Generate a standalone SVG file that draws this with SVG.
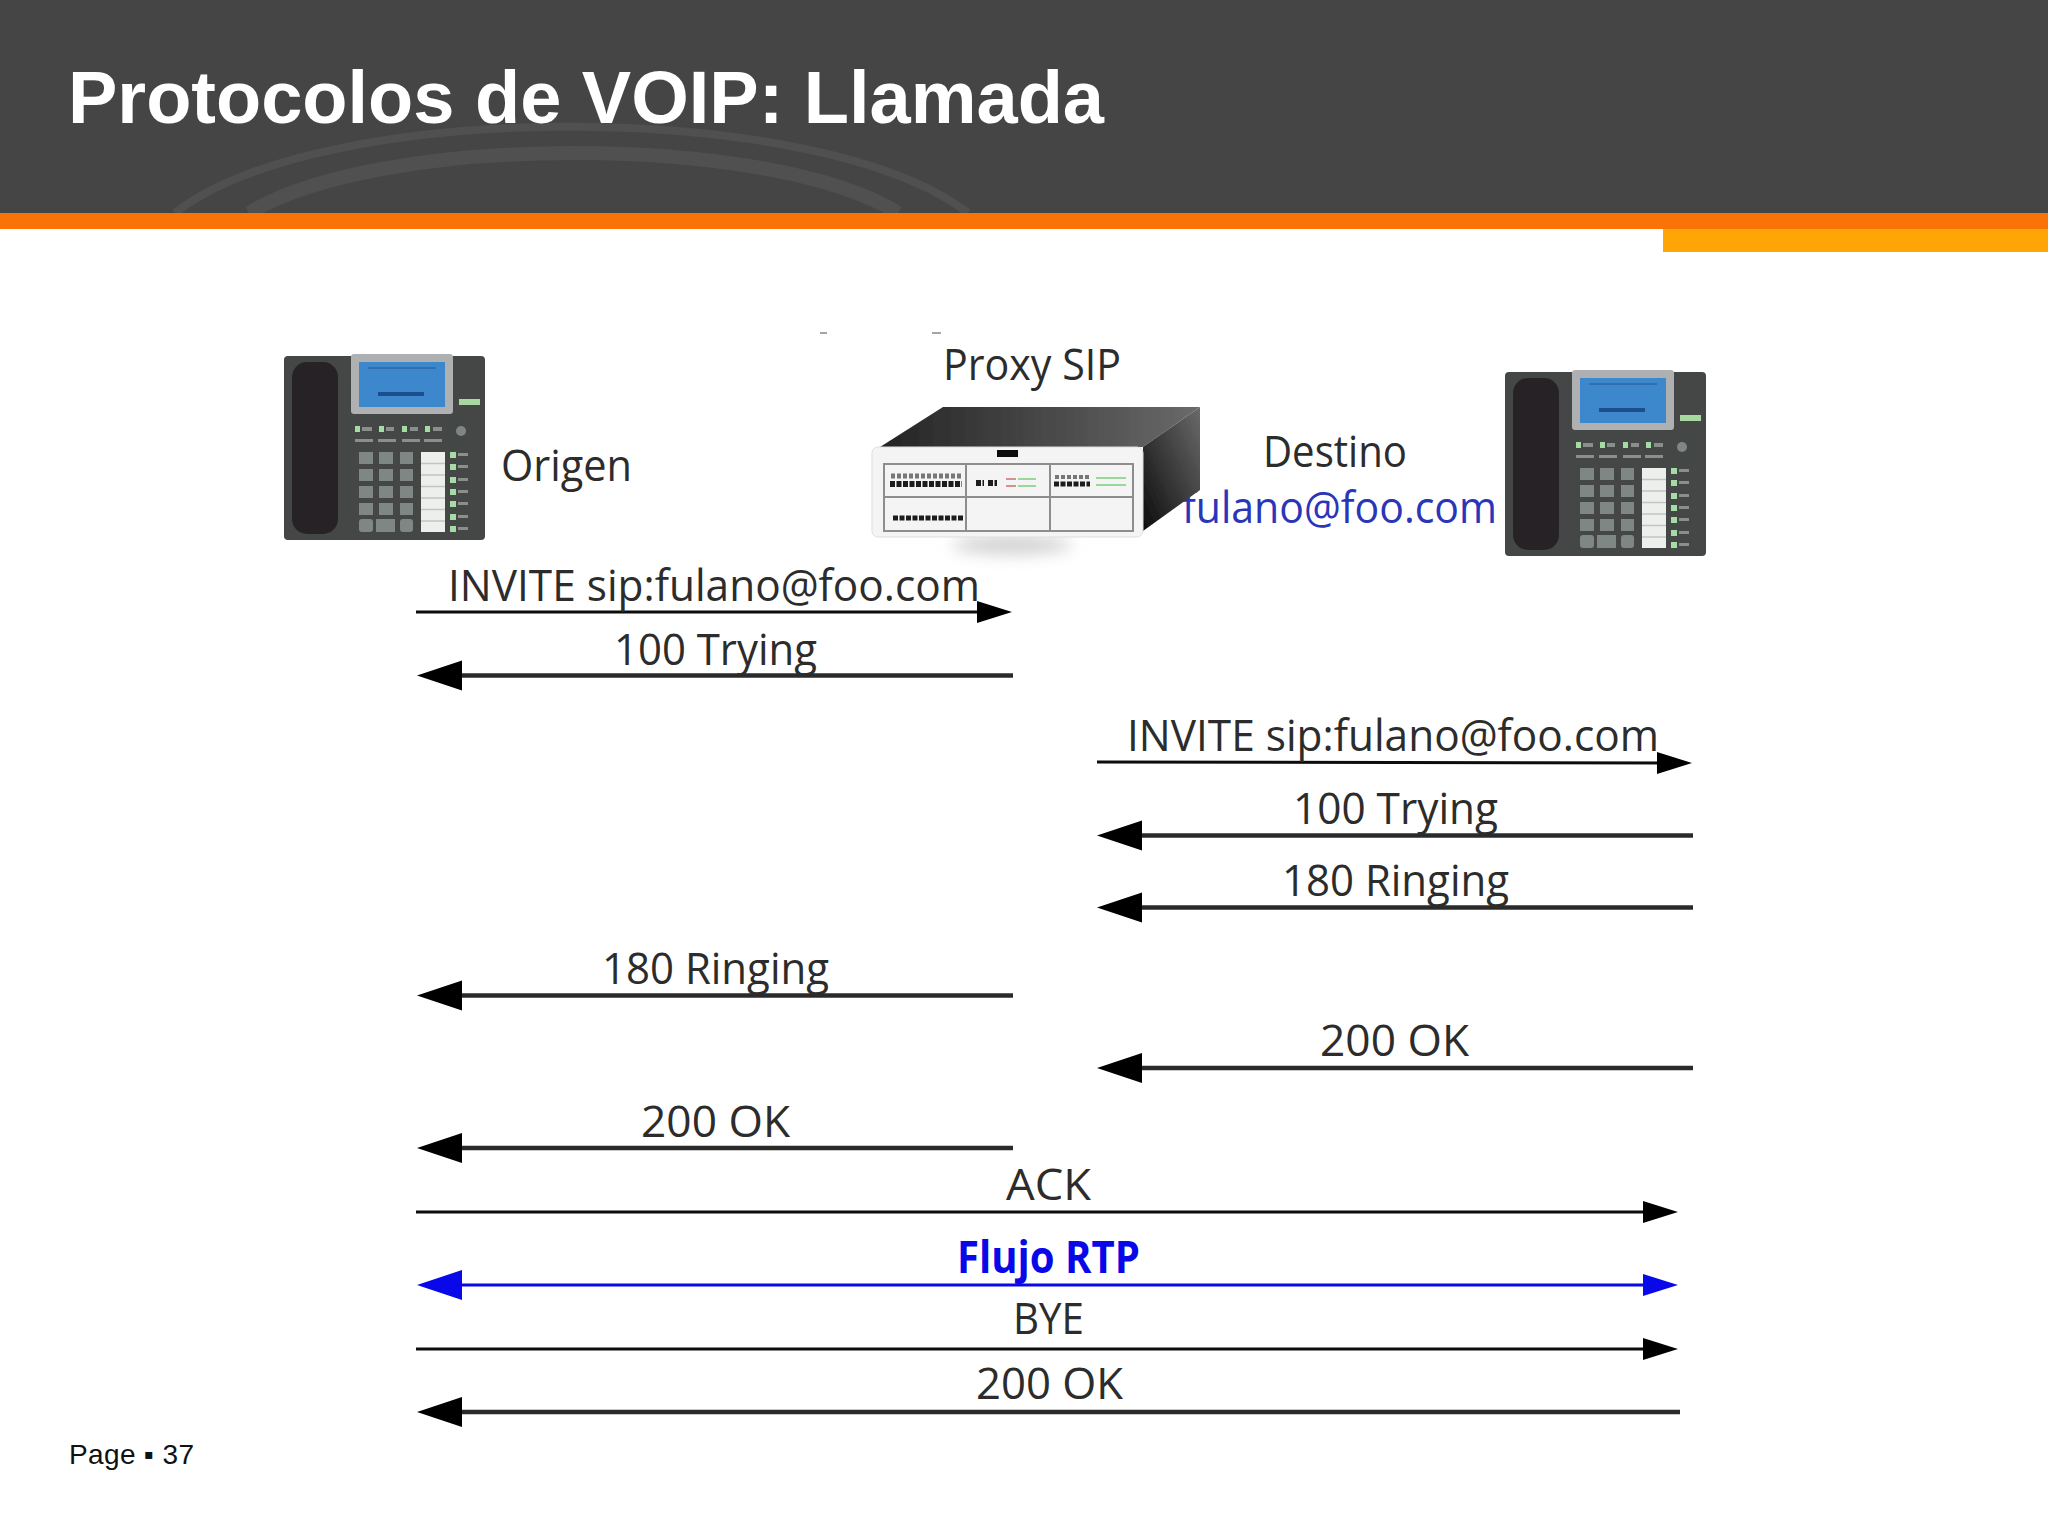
<svg xmlns="http://www.w3.org/2000/svg" width="2048" height="1536" viewBox="0 0 2048 1536">
<style>
.lb{font-family:"Open Sans","Noto Sans","Liberation Sans",sans-serif;font-size:44px;fill:#2c2c2c}
.thin{stroke:#0c0c0c;stroke-width:3;fill:none}
.thick{stroke:#2a2a2a;stroke-width:4.5;fill:none}
.blue{stroke:#0808e8;stroke-width:3;fill:none}
.key{fill:#7f8784}
.led{fill:#a5dca5}
.tag{fill:#8a8f8c}
.sep{stroke:#c4c4c4;stroke-width:1.5}
.pl{stroke:#8d8d8d;stroke-width:2}
.port{stroke:#1a1a1a;fill:none;stroke-dasharray:5 1.500}
.port2{stroke:#777;fill:none;stroke-dasharray:4 2}
</style>
<defs>
<filter id="soft" x="-5%" y="-5%" width="110%" height="110%"><feGaussianBlur stdDeviation="0.7"/></filter>
<filter id="shad" x="-30%" y="-100%" width="160%" height="300%"><feGaussianBlur stdDeviation="8"/></filter>
<linearGradient id="top" x1="0" y1="0" x2="1" y2="0"><stop offset="0" stop-color="#242424"/><stop offset="1" stop-color="#6a6a6a"/></linearGradient>
<linearGradient id="side" x1="0" y1="1" x2="1" y2="0"><stop offset="0" stop-color="#0c0c0c"/><stop offset="1" stop-color="#6a6a6a"/></linearGradient>
<marker id="lk" markerUnits="userSpaceOnUse" markerWidth="46" markerHeight="32" refX="24" refY="16" orient="0"><path d="M1 16 46 1V31Z" fill="#000"/></marker>
<marker id="rk" markerUnits="userSpaceOnUse" markerWidth="37" markerHeight="24" refX="16" refY="12" orient="0"><path d="M36 12 1 1V23Z" fill="#000"/></marker>
<marker id="lb" markerUnits="userSpaceOnUse" markerWidth="46" markerHeight="32" refX="24" refY="16" orient="0"><path d="M1 16 46 1V31Z" fill="#0808e8"/></marker>
<marker id="rb" markerUnits="userSpaceOnUse" markerWidth="37" markerHeight="24" refX="16" refY="12" orient="0"><path d="M36 12 1 1V23Z" fill="#0808e8"/></marker>
<g id="phone" filter="url(#soft)">
<rect x="284" y="356" width="201" height="184" rx="4" fill="#454647"/>
<rect x="292" y="362" width="46" height="172" rx="15" fill="#252426"/>
<rect x="351" y="354" width="102" height="60" rx="3" fill="#aeb0b2"/>
<rect x="359" y="362" width="86" height="45" fill="#3d88cc"/>
<rect x="368" y="367" width="68" height="2" fill="#2f70b0"/>
<rect x="378" y="392" width="46" height="4" fill="#1f4d8e"/>
<rect x="459" y="399" width="21" height="6" fill="#a8d8a0"/>
<g class="led"><rect x="355" y="426" width="5" height="6"/><rect x="379" y="426" width="5" height="6"/><rect x="402" y="426" width="5" height="6"/><rect x="425" y="426" width="5" height="6"/></g>
<g class="tag"><rect x="362" y="427" width="10" height="4"/><rect x="386" y="427" width="8" height="4"/><rect x="410" y="427" width="8" height="4"/><rect x="433" y="427" width="9" height="4"/><rect x="355" y="439" width="18" height="3"/><rect x="378" y="439" width="18" height="3"/><rect x="402" y="439" width="18" height="3"/><rect x="424" y="439" width="18" height="3"/></g>
<circle cx="461" cy="431" r="5" fill="#7f8784"/>
<g class="key">
<rect x="359" y="452" width="14" height="12"/><rect x="379" y="452" width="14" height="12"/><rect x="400" y="452" width="13" height="12"/>
<rect x="359" y="469" width="14" height="12"/><rect x="379" y="469" width="14" height="12"/><rect x="400" y="469" width="13" height="12"/>
<rect x="359" y="486" width="14" height="12"/><rect x="379" y="486" width="14" height="12"/><rect x="400" y="486" width="13" height="12"/>
<rect x="359" y="503" width="14" height="12"/><rect x="379" y="503" width="14" height="12"/><rect x="400" y="503" width="13" height="12"/>
<rect x="359" y="519" width="14" height="13" rx="3"/><rect x="376" y="519" width="19" height="13"/><rect x="400" y="519" width="13" height="13" rx="3"/>
</g>
<rect x="421" y="452" width="24" height="80" fill="#ecefec"/>
<path class="sep" d="M421 463.500H445M421 475H445M421 486.500H445M421 498H445M421 509.500H445M421 521H445"/>
<g class="led"><rect x="450" y="452" width="6" height="6"/><rect x="450" y="464" width="6" height="6"/><rect x="450" y="477" width="6" height="6"/><rect x="450" y="489" width="6" height="6"/><rect x="450" y="501" width="6" height="6"/><rect x="450" y="514" width="6" height="6"/><rect x="450" y="526" width="6" height="6"/></g>
<g class="tag"><rect x="458" y="453" width="10" height="3"/><rect x="458" y="465" width="10" height="3"/><rect x="458" y="478" width="10" height="3"/><rect x="458" y="490" width="10" height="3"/><rect x="458" y="502" width="10" height="3"/><rect x="458" y="515" width="10" height="3"/><rect x="458" y="527" width="10" height="3"/></g>
</g>
</defs>
<rect width="2048" height="1536" fill="#fff"/>
<g id="header">
<rect width="2048" height="214" fill="#454545"/>
<path d="M175 213C320 98 820 98 968 213" fill="none" stroke="#505050" stroke-width="8"/>
<path d="M249 213C380 133 770 133 898 213" fill="none" stroke="#505050" stroke-width="14"/>
<rect y="213" width="2048" height="16" fill="#f97306"/>
<rect x="1663" y="229" width="385" height="23" fill="#ffa506"/>
<text x="68" y="123" font-family="'Liberation Sans',Arial,sans-serif" font-size="74" font-weight="700" fill="#fff" textLength="1036" lengthAdjust="spacingAndGlyphs">Protocolos de VOIP: Llamada</text>
</g>
<text id="page" x="69" y="1464" font-family="'Liberation Sans',Arial,sans-serif" font-size="28" fill="#111" textLength="125" lengthAdjust="spacing">Page ▪ 37</text>
<g id="marks"><path d="M820 333h7M932 333h9" stroke="#888" stroke-width="1.500"/></g>
<g id="origen">
<use href="#phone"/>
<text class="lb" x="501" y="481" textLength="131" lengthAdjust="spacingAndGlyphs">Origen</text>
</g>
<g id="destino">
<text class="lb" x="1263" y="467" textLength="144" lengthAdjust="spacingAndGlyphs">Destino</text>
<text class="lb" x="1182" y="523" textLength="315" lengthAdjust="spacingAndGlyphs" style="fill:#2a35b8">fulano@foo.com</text>
<use href="#phone" x="1221" y="16"/>
</g>
<g id="proxy">
<text class="lb" x="943" y="380" textLength="178" lengthAdjust="spacingAndGlyphs">Proxy SIP</text>
<ellipse cx="1012" cy="545" rx="60" ry="9" fill="#cfcfcf" filter="url(#shad)"/>
<g filter="url(#soft)">
<path d="M880 447 943 407H1200L1143 447Z" fill="url(#top)"/>
<path d="M1143 447 1200 407V490L1143 531Z" fill="url(#side)"/>
<rect x="872" y="447" width="271" height="90" rx="6" fill="#f4f4f4" stroke="#ddd"/>
<rect x="997" y="450" width="21" height="7" fill="#111"/>
<rect x="884" y="464" width="249" height="67" fill="none" stroke="#8d8d8d" stroke-width="2"/>
<path class="pl" d="M966 464V531M1050 464V531M884 497H1133"/>
<path class="port" stroke-width="6" d="M890 484H962"/>
<path class="port2" stroke-width="5" d="M891 476H962"/>
<path class="port" stroke-width="5" d="M893 518H963"/>
<path class="port" stroke-width="6" d="M976 483H984M988 483H997"/>
<path d="M1006 479h10M1006 486h10" stroke="#d89090" stroke-width="2"/>
<path d="M1018 479h18M1018 486h18" stroke="#9ad89a" stroke-width="2"/>
<path class="port" stroke-width="5" d="M1054 484H1090"/>
<path class="port2" stroke-width="4" d="M1055 477H1090"/>
<path d="M1096 478h30M1096 485h30" stroke="#9ad89a" stroke-width="2"/>
</g>
</g>
<g id="connectors">
<line class="thin" x1="416" y1="612" x2="992" y2="612" marker-end="url(#rk)"/>
<line class="thick" x1="1013" y1="675.500" x2="440" y2="675.500" marker-end="url(#lk)"/>
<line class="thin" x1="1097" y1="762" x2="1672" y2="763" marker-end="url(#rk)"/>
<line class="thick" x1="1693" y1="835.500" x2="1120" y2="835.500" marker-end="url(#lk)"/>
<line class="thick" x1="1693" y1="907.500" x2="1120" y2="907.500" marker-end="url(#lk)"/>
<line class="thick" x1="1013" y1="995.500" x2="440" y2="995.500" marker-end="url(#lk)"/>
<line class="thick" x1="1693" y1="1068" x2="1120" y2="1068" marker-end="url(#lk)"/>
<line class="thick" x1="1013" y1="1148" x2="440" y2="1148" marker-end="url(#lk)"/>
<line class="thin" x1="416" y1="1212" x2="1658" y2="1212" marker-end="url(#rk)"/>
<line class="blue" x1="440" y1="1285" x2="1658" y2="1285" marker-start="url(#lb)" marker-end="url(#rb)"/>
<line class="thin" x1="416" y1="1349" x2="1658" y2="1349" marker-end="url(#rk)"/>
<line class="thick" x1="1680" y1="1412" x2="440" y2="1412" marker-end="url(#lk)"/>
</g>
<g id="labels">
<text class="lb" x="448" y="601" textLength="532" lengthAdjust="spacingAndGlyphs">INVITE sip:fulano@foo.com</text>
<text class="lb" x="614" y="665" textLength="203" lengthAdjust="spacingAndGlyphs">100 Trying</text>
<text class="lb" x="1127" y="751" textLength="532" lengthAdjust="spacingAndGlyphs">INVITE sip:fulano@foo.com</text>
<text class="lb" x="1293" y="824" textLength="205" lengthAdjust="spacingAndGlyphs">100 Trying</text>
<text class="lb" x="1282" y="896" textLength="227" lengthAdjust="spacingAndGlyphs">180 Ringing</text>
<text class="lb" x="602" y="984" textLength="227" lengthAdjust="spacingAndGlyphs">180 Ringing</text>
<text class="lb" x="1320" y="1056" textLength="149" lengthAdjust="spacingAndGlyphs">200 OK</text>
<text class="lb" x="641" y="1137" textLength="149" lengthAdjust="spacingAndGlyphs">200 OK</text>
<text class="lb" x="1006" y="1200" textLength="85" lengthAdjust="spacingAndGlyphs">ACK</text>
<text class="lb" x="957" y="1273" textLength="183" lengthAdjust="spacingAndGlyphs" style="fill:#0808e8;font-weight:700">Flujo RTP</text>
<text class="lb" x="1013" y="1334" textLength="71" lengthAdjust="spacingAndGlyphs">BYE</text>
<text class="lb" x="976" y="1399" textLength="147" lengthAdjust="spacingAndGlyphs">200 OK</text>
</g>
</svg>
